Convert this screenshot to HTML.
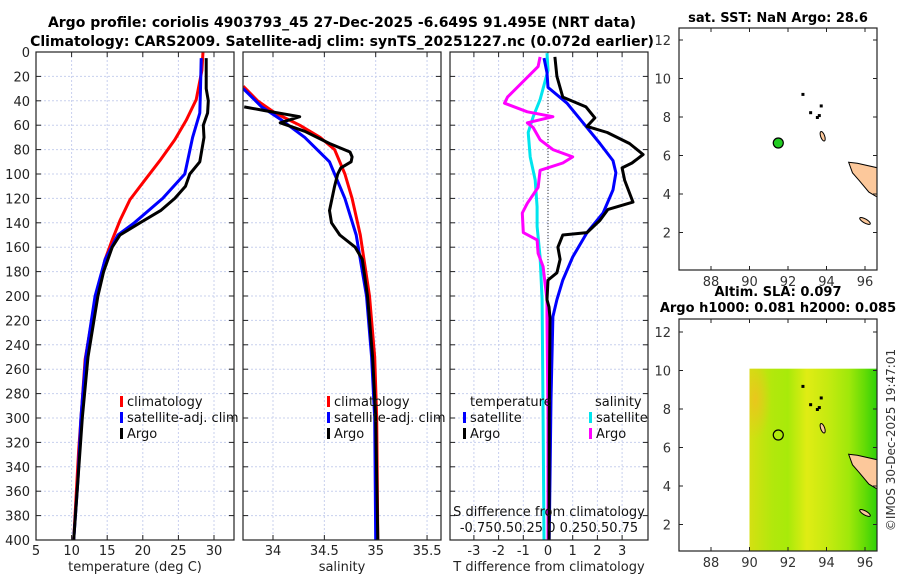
<!DOCTYPE html>
<html><head><meta charset="utf-8">
<style>
body{margin:0;background:#fff;}
svg{display:block;font-family:"DejaVu Sans","Liberation Sans",sans-serif;}
</style></head>
<body>
<svg id="c" width="900" height="580" viewBox="0 0 900 580">
<text x="342" y="27" text-anchor="middle" font-size="14" font-weight="bold">Argo profile: coriolis 4903793_45 27-Dec-2025 -6.649S 91.495E (NRT data)</text>
<text x="342" y="46" text-anchor="middle" font-size="14" font-weight="bold">Climatology: CARS2009. Satellite-adj clim: synTS_20251227.nc (0.072d earlier)</text>
<text x="778" y="22" text-anchor="middle" font-size="13" font-weight="bold">sat. SST: NaN Argo: 28.6</text>
<text x="778" y="296" text-anchor="middle" font-size="13" font-weight="bold">Altim. SLA: 0.097</text>
<text x="778" y="312" text-anchor="middle" font-size="13" font-weight="bold">Argo h1000: 0.081 h2000: 0.085</text>
<text transform="translate(895,440) rotate(-90)" text-anchor="middle" font-size="12" fill="#333">©IMOS 30-Dec-2025 19:47:01</text>
<g id="g"></g>
</svg>
<script>
// ---- data ----
const depthTicks=[0,20,40,60,80,100,120,140,160,180,200,220,240,260,280,300,320,340,360,380,400];
const tTicks=[5,10,15,20,25,30];
const sTicks=[34,34.5,35,35.5];
const dTicks=[-3,-2,-1,0,1,2,3];
const climTdep=[0,15,39,56,72,89,105,121,138,154,170,187,203,228,252,285,326,367,400];
const climT=[28.45,28.3,27.5,26.1,24.5,22.4,20.3,18.2,16.8,15.7,14.7,14.0,13.3,12.6,11.9,11.5,11.0,10.6,10.3];
const satTdep=[5,30,50,70,100,120,140,150,170,200,250,300,350,400];
const satT=[28.2,28.1,28.0,27.0,25.9,22.8,18.8,16.5,14.7,13.3,12.0,11.3,10.9,10.3];
const argoTdep=[5,30,40,50,60,70,90,100,110,120,130,140,150,160,180,200,250,300,400];
const argoT=[28.9,28.9,29.2,29.1,28.5,28.6,28.0,26.6,26.0,24.5,22.5,19.6,16.8,15.7,14.5,13.7,12.3,11.5,10.3];
const climSdep=[28,40,50,60,70,80,100,120,150,200,250,300,400];
const climS=[33.71,33.85,34.02,34.26,34.46,34.60,34.70,34.77,34.85,34.94,34.99,35.01,35.02];
const satSdep=[30,45,55,70,90,100,120,150,200,250,300,400];
const satS=[33.71,33.89,34.07,34.31,34.55,34.60,34.70,34.81,34.91,34.96,34.99,35.0];
const argoSdep=[45,48,53,58,65,75,82,86,90,95,100,110,130,140,150,160,170,200,250,300,400];
const argoS=[33.72,33.92,34.26,34.07,34.31,34.55,34.75,34.77,34.76,34.66,34.63,34.60,34.55,34.57,34.65,34.80,34.87,34.92,34.97,35.0,35.02];
const dArgoTdep=[4,20,37,45,54,61,66,75,84,91,95,105,123,129,138,148,150,160,170,181,187,203,209,218,300,400];
const dArgoT=[0.28,0.36,0.6,1.54,1.9,1.58,2.4,3.3,3.85,3.4,3.0,3.1,3.44,2.43,2.1,1.58,0.6,0.4,0.49,0.36,0,-0.04,0.04,0.08,0.05,0.04];
const dSatTdep=[5,17,29,42,58,75,89,99,113,132,148,168,187,203,217,285,350,400];
const dSatT=[-0.16,-0.04,0,0.77,1.42,2.1,2.63,2.75,2.63,2.23,1.58,1.0,0.6,0.36,0.2,0.12,0.08,0.05];
const dArgoSdep=[4,12,37,42,49,53,58,62,72,80,86,91,97,111,124,132,148,154,165,176,203,217,300,400];
const dArgoS=[-0.08,-0.10,-0.41,-0.44,-0.21,0.05,-0.21,-0.15,-0.08,0.05,0.25,0.15,-0.08,-0.10,-0.21,-0.26,-0.25,-0.11,-0.10,-0.05,-0.01,-0.01,0.0,0.0];
const dSatSdep=[1,15,39,53,66,86,105,127,143,168,203,300,400];
const dSatS=[-0.01,0,-0.08,-0.15,-0.20,-0.18,-0.13,-0.11,-0.11,-0.08,-0.06,-0.05,-0.04];
const lonTicks=[88,90,92,94,96];
const latTicks=[2,4,6,8,10,12];
const argoLon=[91.495];
const argoLat=[6.649];

// ---- helpers ----
const NS="http://www.w3.org/2000/svg";
const G=document.getElementById('g');
function el(tag,attrs,parent){const e=document.createElementNS(NS,tag);for(const k in attrs)e.setAttribute(k,attrs[k]);(parent||G).appendChild(e);return e;}
const top0=52,bot0=540;
const yD=d=>top0+d*(bot0-top0)/400;
const xT=t=>36+(t-5)*7.12;
const xS=s=>273+(s-34)*102.7;
const xD=v=>548+v*24.7;
const xDS=v=>548+v*98.8;
const panels=[[36,234],[243,441],[450,648]];

panels.forEach((p,i)=>{
  const r=el('rect',{x:p[0],y:top0,width:p[1]-p[0],height:bot0-top0,fill:'#fff',stroke:'none'});
  
  
  depthTicks.forEach(d=>{
    const l=el('line',{x1:p[0],x2:p[1],y1:yD(d),y2:yD(d),stroke:'#c8d0ee','stroke-dasharray':'2,2','stroke-width':1});
    
    
    el('line',{x1:p[0],x2:p[0]+5,y1:yD(d),y2:yD(d),stroke:'#222'});
    el('line',{x1:p[1]-5,x2:p[1],y1:yD(d),y2:yD(d),stroke:'#222'});
  });
});
depthTicks.forEach(d=>{
  const t=el('text',{x:30,y:yD(d)+5,'text-anchor':'end','font-size':13,fill:'#222'});
  t.textContent=d;
  
  
});
function xgrid(ticks,fx,p,name){
  ticks.forEach(v=>{
    const x=fx(v);
    const l=el('line',{x1:x,x2:x,y1:top0,y2:bot0,stroke:'#c8d0ee','stroke-dasharray':'2,2'});
    
    
    el('line',{x1:x,x2:x,y1:bot0-5,y2:bot0,stroke:'#222'});
    el('line',{x1:x,x2:x,y1:top0,y2:top0+5,stroke:'#222'});
    const t=el('text',{x:x,y:555,'text-anchor':'middle','font-size':13,fill:'#222'});
    t.textContent=v;
    
    
  });
}
xgrid(tTicks,xT,panels[0],'temperature');
xgrid(sTicks,xS,panels[1],'salinity');
xgrid(dTicks,xD,panels[2],'t-difference');
[['temperature (deg C)',135,'temperature-axis-title'],['salinity',342,'salinity-axis-title'],['T difference from climatology',549,'t-difference-axis-title']].forEach(a=>{
  const t=el('text',{x:a[1],y:571,'text-anchor':'middle','font-size':13,fill:'#222'});
  t.textContent=a[0];
  
  
});
const z=el('line',{x1:548,x2:548,y1:top0,y2:yD(205),stroke:'#333','stroke-dasharray':'1,2'});



function line(xs,ds,fx,color,name,clip){
  const pts=xs.map((v,i)=>fx(v).toFixed(1)+','+yD(ds[i]).toFixed(1)).join(' ');
  const pl=el('polyline',{points:pts,fill:'none',stroke:color,'stroke-width':3,'stroke-linejoin':'round','clip-path':'url(#'+clip+')'});
  
  
}
const defs=el('defs',{});
panels.forEach((p,i)=>{const cp=el('clipPath',{id:'cp'+i},defs);el('rect',{x:p[0],y:top0,width:p[1]-p[0],height:bot0-top0},cp);});

line(climT,climTdep,xT,'#f00','climatology-temperature-line','cp0');
line(satT,satTdep,xT,'#00f','satellite-temperature-line','cp0');
line(argoT,argoTdep,xT,'#000','argo-temperature-line','cp0');
line(climS,climSdep,xS,'#f00','climatology-salinity-line','cp1');
line(satS,satSdep,xS,'#00f','satellite-salinity-line','cp1');
line(argoS,argoSdep,xS,'#000','argo-salinity-line','cp1');
line(dSatS,dSatSdep,xDS,'#00e5ee','satellite-s-diff-line','cp2');
line(dArgoS,dArgoSdep,xDS,'#f0f','argo-s-diff-line','cp2');
line(dSatT,dSatTdep,xD,'#00f','satellite-t-diff-line','cp2');
line(dArgoT,dArgoTdep,xD,'#000','argo-t-diff-line','cp2');

panels.forEach((p,i)=>{
  const r=el('rect',{x:p[0],y:top0,width:p[1]-p[0],height:bot0-top0,fill:'none',stroke:'#222','stroke-width':1.2});
  
  
});
[['S difference from climatology',516],['-0.750.50.25 0 0.250.50.75',532]].forEach((a,i)=>{
  const t=el('text',{x:549,y:a[1],'text-anchor':'middle','font-size':13,fill:'#111'});
  t.textContent=a[0];
  
  
});

function legend(x,y,color,label,name){
  const r=el('rect',{x:x,y:y-10,width:3,height:11,fill:color});
  
  
  const t=el('text',{x:x+7,y:y,'font-size':13,fill:'#111'});
  t.textContent=label;
  
  
}
legend(120,406,'#f00','climatology','climatology');
legend(120,422,'#00f','satellite-adj. clim','satellite-adj');
legend(120,438,'#000','Argo','argo');
legend(327,406,'#f00','climatology','climatology-s');
legend(327,422,'#00f','satellite-adj. clim','satellite-adj-s');
legend(327,438,'#000','Argo','argo-s');
[['temperature',470,'temperature-legend-heading'],['salinity',595,'salinity-legend-heading']].forEach(a=>{
  const t=el('text',{x:a[1],y:406,'font-size':13,fill:'#111'});
  t.textContent=a[0];
  
  
});
legend(463,422,'#00f','satellite','t-diff-satellite');
legend(463,438,'#000','Argo','t-diff-argo');
legend(589,422,'#00e5ee','satellite','s-diff-satellite');
legend(589,438,'#f0f','Argo','s-diff-argo');

// ---- maps ----
const mL=679,mR=877;
const xLon=v=>711+(v-88)*19.25;
function map(top,bottom,lat12y,idx){
  const yLat=v=>lat12y+(12-v)*19.25;
  const g=el('g',{});
  
  
  el('rect',{x:mL,y:top,width:mR-mL,height:bottom-top,fill:'#fff'},g);
  const cid='mc'+idx;
  const cp=el('clipPath',{id:cid},defs);el('rect',{x:mL,y:top,width:mR-mL,height:bottom-top},cp);
  const inner=el('g',{'clip-path':'url(#'+cid+')'},g);
  if(idx){
    const gr=el('linearGradient',{id:'slag',x1:0,x2:1,y1:0,y2:0},defs);
    [['0','#d4e012'],['0.18','#b2e80c'],['0.3','#a8ea0a'],['0.45','#e0ec14'],['0.62','#c4ea10'],['0.78','#a0e80a'],['0.9','#66dc06'],['1','#2ed008']].forEach(s=>el('stop',{offset:s[0],'stop-color':s[1]},gr));
    const fx0=xLon(90),fy0=yLat(10.1);
    const fcp=el('clipPath',{id:'fieldclip'},defs);
    el('rect',{x:fx0,y:fy0,width:mR-fx0,height:bottom-fy0},fcp);
    const fg=el('g',{'clip-path':'url(#fieldclip)'},inner);
    const f=el('rect',{x:fx0,y:fy0,width:mR-fx0,height:bottom-fy0,fill:'url(#slag)'},fg);
    
    
    const rg=el('radialGradient',{id:'org'},defs);
    el('stop',{offset:'0','stop-color':'#f0c020','stop-opacity':0.8},rg);
    el('stop',{offset:'1','stop-color':'#f0c020','stop-opacity':0},rg);
    el('ellipse',{cx:xLon(90.3),cy:yLat(8.5),rx:16,ry:40,fill:'url(#org)'},fg);
  }
  const land=el('path',{d:`M${xLon(95.15)},${yLat(5.65)} L${xLon(95.6)},${yLat(5.6)} L${xLon(96.7)},${yLat(5.35)} L${xLon(96.7)},${yLat(3.8)} L${xLon(96.2)},${yLat(4.1)} L${xLon(95.7)},${yLat(4.7)} L${xLon(95.35)},${yLat(5.1)} Z`,fill:'#fcc89b',stroke:'#000','stroke-width':1},inner);
  
  
  el('ellipse',{cx:xLon(93.8),cy:yLat(7.0),rx:2,ry:5,fill:'#fcc89b',stroke:'#000',transform:`rotate(-20 ${xLon(93.8)} ${yLat(7.0)})`},inner);
  el('ellipse',{cx:xLon(96.0),cy:yLat(2.6),rx:6,ry:2,fill:'#fcc89b',stroke:'#000',transform:`rotate(30 ${xLon(96.0)} ${yLat(2.6)})`},inner);
  [[92.75,9.2],[93.15,8.25],[93.5,8.0],[93.6,8.1],[93.7,8.6]].forEach(p=>el('rect',{x:xLon(p[0])-1,y:yLat(p[1])-1,width:3,height:3,fill:'#000'},inner));
  argoLon.forEach((lo,i)=>{
    const c=el('circle',{cx:xLon(lo),cy:yLat(argoLat[i]),r:5,fill:idx?'none':'#22cc22',stroke:'#000','stroke-width':1.2},inner);
    
    
  });
  el('rect',{x:mL,y:top,width:mR-mL,height:bottom-top,fill:'none',stroke:'#222','stroke-width':1.2},g);
  lonTicks.forEach(v=>{
    el('line',{x1:xLon(v),x2:xLon(v),y1:bottom-4,y2:bottom,stroke:'#222'},g);
    el('line',{x1:xLon(v),x2:xLon(v),y1:top,y2:top+4,stroke:'#222'},g);
    const t=el('text',{x:xLon(v),y:bottom+16,'text-anchor':'middle','font-size':13,fill:'#333'},g);
    t.textContent=v;
    
    
  });
  latTicks.forEach(v=>{
    const y=yLat(v);if(y<top||y>bottom)return;
    el('line',{x1:mL,x2:mL+4,y1:y,y2:y,stroke:'#222'},g);
    el('line',{x1:mR-4,x2:mR,y1:y,y2:y,stroke:'#222'},g);
    const t=el('text',{x:mL-8,y:y+5,'text-anchor':'end','font-size':13,fill:'#333'},g);
    t.textContent=v;
    
    
  });
}
map(28,270,40,0);
map(319,551,332,1);
</script>
</body></html>
